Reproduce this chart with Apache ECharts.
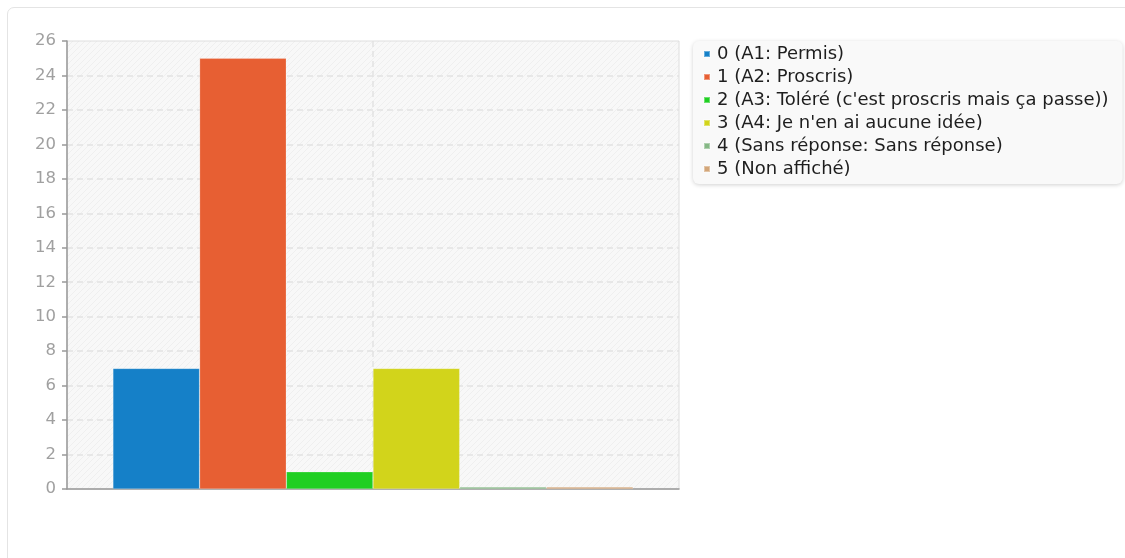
<!DOCTYPE html>
<html>
<head>
<meta charset="utf-8">
<script src="https://cdn.jsdelivr.net/npm/echarts@6/dist/echarts.min.js"></script>
<style>
  html, body { margin: 0; padding: 0; background: #fff; }
  body { width: 1125px; height: 558px; overflow: hidden; position: relative; }
  #frame {
    position: absolute; left: 7px; top: 7px; width: 1300px; height: 700px;
    border: 1px solid #e4e4e4; border-radius: 7px; box-sizing: border-box;
  }
  #chart { position: absolute; left: 0; top: 0; width: 1125px; height: 558px; }
</style>
</head>
<body>
<div id="frame"></div>
<div id="chart"></div>
<script>
// Response counts per answer option
const categories = ['Question'];
const seriesNames = [
  '0 (A1: Permis)',
  '1 (A2: Proscris)',
  "2 (A3: Toléré (c'est proscris mais ça passe))",
  "3 (A4: Je n'en ai aucune idée)",
  '4 (Sans réponse: Sans réponse)',
  '5 (Non affiché)'
];
const seriesValues = [7, 25, 1, 7, 0, 0];
const seriesColors = ['#1580c8', '#e75f33', '#20cf22', '#d2d41b', '#86b886', '#d3a679'];
const yTicks = { min: 0, max: 26, step: 2 };

// Diagonal hatch used as the plot background
function hatchPattern() {
  const c = document.createElement('canvas');
  c.width = 6; c.height = 6;
  const g = c.getContext('2d');
  g.fillStyle = '#f8f8f8';
  g.fillRect(0, 0, 6, 6);
  g.strokeStyle = '#efefef';
  g.lineWidth = 1;
  g.beginPath();
  g.moveTo(-1, 7); g.lineTo(7, -1);
  g.moveTo(-1, 1); g.lineTo(1, -1);
  g.moveTo(5, 7); g.lineTo(7, 5);
  g.stroke();
  return c;
}

const font = 'DejaVu Sans';
const chart = echarts.init(document.getElementById('chart'), null, { renderer: 'canvas' });

const series = seriesNames.map((name, i) => ({
  name,
  type: 'bar',
  xAxisIndex: 0,
  data: [seriesValues[i]],
  barGap: '0%',
  barCategoryGap: '15%',
  barMinHeight: 2,
  itemStyle: {
    color: seriesColors[i],
    borderColor: 'rgba(255,255,255,0.35)',
    borderWidth: 0.6
  },
  emphasis: { disabled: true }
}));

chart.setOption({
  animation: false,
  textStyle: { fontFamily: font },
  grid: {
    left: 67, right: 446, top: 41, bottom: 69,
    show: true,
    backgroundColor: { image: hatchPattern(), repeat: 'repeat' },
    borderColor: '#dedede',
    borderWidth: 1
  },
  legend: {
    orient: 'vertical',
    left: 693, top: 41,
    padding: [4, 14, 6, 10],
    itemWidth: 6, itemHeight: 6,
    itemGap: 5,
    icon: 'rect',
    backgroundColor: '#f9f9f9',
    borderRadius: 6,
    shadowBlur: 4,
    shadowOffsetY: 1,
    shadowColor: 'rgba(0,0,0,0.18)',
    textStyle: { fontFamily: font, fontSize: 18, color: '#1e1e1e', padding: [0, 0, 0, 2] },
    data: seriesNames
  },
  xAxis: [
    {
      type: 'category',
      data: categories,
      axisLine: { show: true, lineStyle: { color: '#999', width: 1.5 } },
      axisTick: { show: false },
      axisLabel: { show: false },
      splitLine: { show: false }
    },
    {
      type: 'value',
      min: 0, max: 2, interval: 1,
      position: 'bottom',
      axisLine: { show: false },
      axisTick: { show: false },
      axisLabel: { show: false },
      splitLine: {
        show: true, showMinLine: false, showMaxLine: false,
        lineStyle: { color: '#e2e2e2', type: [6, 4], width: 1.5 }
      }
    }
  ],
  yAxis: {
    type: 'value',
    min: yTicks.min, max: yTicks.max, interval: yTicks.step,
    axisLine: { show: true, lineStyle: { color: '#999', width: 1.5 } },
    axisTick: { show: true, length: 5, lineStyle: { color: '#999', width: 1.5 } },
    axisLabel: { color: '#a0a0a0', fontSize: 16.5, margin: 11, fontFamily: font },
    splitLine: {
      show: true, showMinLine: false, showMaxLine: false,
      lineStyle: { color: '#e2e2e2', type: [6, 4], width: 1.5 }
    }
  },
  series
});
</script>
</body>
</html>
